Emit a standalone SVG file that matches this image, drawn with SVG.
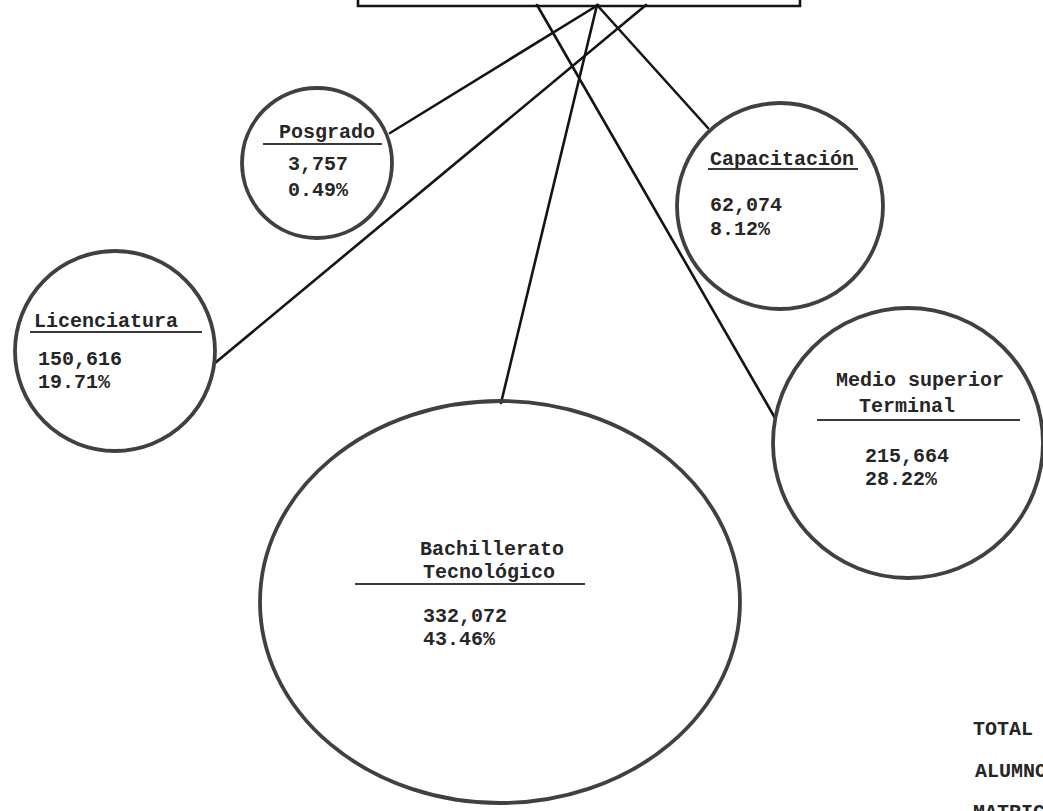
<svg xmlns="http://www.w3.org/2000/svg" width="1043" height="811" viewBox="0 0 1043 811">
  <style>
    .ring{fill:none;stroke:#404040;stroke-width:3.8}
    .link{fill:none;stroke:#141414;stroke-width:2.6;stroke-linecap:round}
    .t{font-family:"Liberation Mono","DejaVu Sans Mono",monospace;font-weight:bold;font-size:20px;fill:#262626}
    .ul{stroke:#3a3a3a;stroke-width:2.2}
  </style>
  <rect width="1043" height="811" fill="#ffffff"/>

  <!-- bottom edge of the total box, cut by the page top -->
  <g id="total-box">
    <path class="link" d="M358,0 V6 H800 V0"/>
  </g>

  <g id="connectors">
    <line class="link" x1="598" y1="5" x2="390" y2="133"/>
    <line class="link" x1="646" y1="5" x2="215" y2="363"/>
    <line class="link" x1="597" y1="5" x2="501" y2="403"/>
    <line class="link" x1="597" y1="5" x2="708" y2="128"/>
    <line class="link" x1="537" y1="5" x2="775" y2="418"/>
  </g>

  <g id="posgrado">
    <circle class="ring" cx="317" cy="163" r="75"/>
    <text class="t" x="327" y="138" text-anchor="middle">Posgrado</text>
    <line class="ul" x1="263" y1="144" x2="382" y2="144"/>
    <text class="t" x="318" y="170" text-anchor="middle">3,757</text>
    <text class="t" x="318" y="196" text-anchor="middle">0.49%</text>
  </g>

  <g id="capacitacion">
    <circle class="ring" cx="780" cy="206" r="103"/>
    <text class="t" x="710" y="165">Capacitación</text>
    <line class="ul" x1="708" y1="169" x2="858" y2="169"/>
    <text class="t" x="710" y="211">62,074</text>
    <text class="t" x="710" y="235">8.12%</text>
  </g>

  <g id="licenciatura">
    <circle class="ring" cx="115" cy="351" r="100"/>
    <text class="t" x="34" y="327">Licenciatura</text>
    <line class="ul" x1="30" y1="332" x2="202" y2="332"/>
    <text class="t" x="38" y="365">150,616</text>
    <text class="t" x="38" y="388">19.71%</text>
  </g>

  <g id="medio-superior">
    <circle class="ring" cx="908" cy="443" r="135"/>
    <text class="t" x="920" y="386" text-anchor="middle">Medio superior</text>
    <text class="t" x="907" y="412" text-anchor="middle">Terminal</text>
    <line class="ul" x1="817" y1="420" x2="1020" y2="420"/>
    <text class="t" x="865" y="462">215,664</text>
    <text class="t" x="865" y="485">28.22%</text>
  </g>

  <g id="bachillerato">
    <ellipse class="ring" cx="500" cy="602" rx="240" ry="201"/>
    <text class="t" x="420" y="555">Bachillerato</text>
    <text class="t" x="423" y="578">Tecnológico</text>
    <line class="ul" x1="355" y1="584" x2="585" y2="584"/>
    <text class="t" x="423" y="622">332,072</text>
    <text class="t" x="423" y="645">43.46%</text>
  </g>

  <g id="total-note">
    <text class="t" x="973" y="735">TOTAL</text>
    <text class="t" x="975" y="777">ALUMNOS</text>
    <text class="t" x="973" y="818">MATRICULA</text>
  </g>
</svg>
